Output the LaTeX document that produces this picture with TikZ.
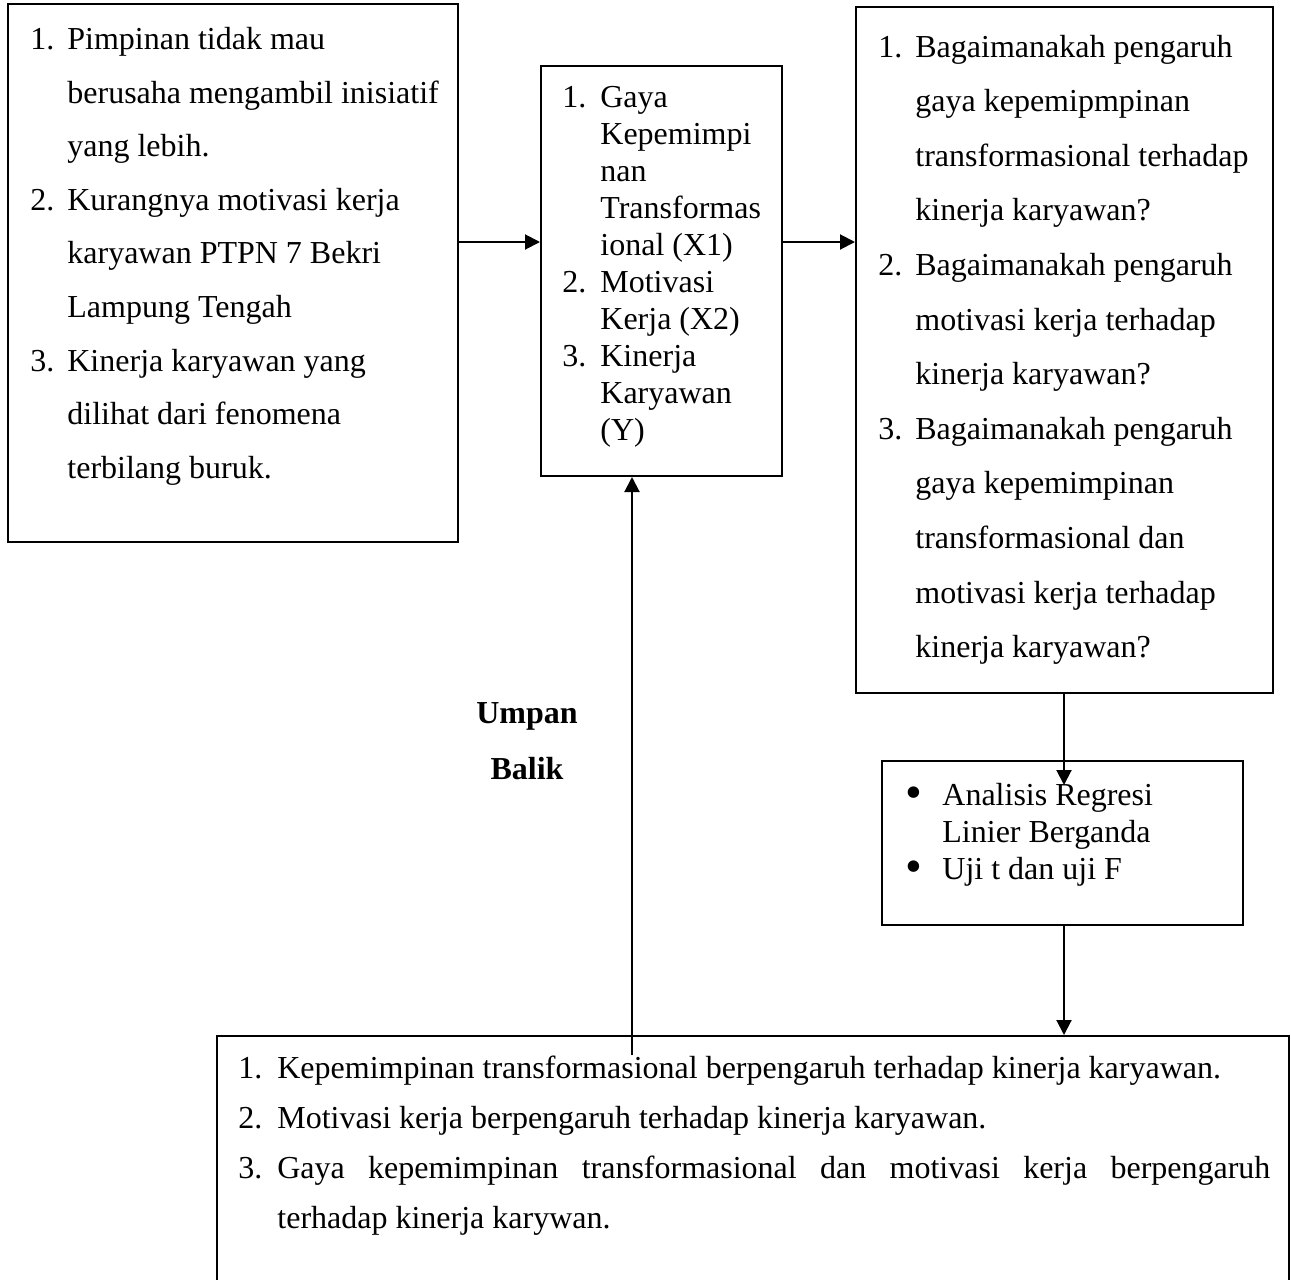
\documentclass[tikz,border=0pt]{standalone}
\usepackage{fontspec}
\setmainfont{Liberation Serif}
\usetikzlibrary{arrows.meta,fit}
% one numbered line with hanging text
\newcommand{\butir}[3]{\par\noindent\hangindent=#1\hangafter=1\makebox[#1][l]{#2}\strut#3\par}
\newcommand{\titik}{\raisebox{-1.5pt}{\scalebox{1.5}{\textbullet}}}
\begin{document}
\begin{tikzpicture}[x=0.5pt,y=-0.5pt,
  kotak/.style={draw,line width=1pt,inner sep=0pt},
  isi/.style={anchor=north west,inner sep=0pt,align=justify},
  panah/.style={line width=1pt,-{Triangle[length=7.5pt,width=7.5pt]}}]
\useasboundingbox (0,0) rectangle (1291,1280);

\node[kotak,fit={(8,4)(458,542)}] (masalah) {};
\node[kotak,fit={(541,66)(782,476)}] (variabel) {};
\node[kotak,fit={(856,7)(1273,693)}] (rumusan) {};
\node[kotak,fit={(882,761)(1243,925)}] (analisis) {};
\node[kotak,fit={(217,1036)(1289,1300)}] (hasil) {};

\node[isi,text width=210pt,font=\fontsize{16}{26.8}\selectfont] (masalahisi) at (30,-4.5) {%
\butir{18.5pt}{1.}{Pimpinan tidak mau\newline berusaha mengambil inisiatif\newline yang lebih.}
\butir{18.5pt}{2.}{Kurangnya motivasi kerja\newline karyawan PTPN 7 Bekri\newline Lampung Tengah}
\butir{18.5pt}{3.}{Kinerja karyawan yang\newline dilihat dari fenomena\newline terbilang buruk.}};

\node[isi,text width=107pt,font=\fontsize{16}{18.5}\selectfont] (variabelisi) at (562,70) {%
\butir{19pt}{1.}{Gaya\newline Kepemimpi\newline nan\newline Transformas\newline ional (X1)}
\butir{19pt}{2.}{Motivasi\newline Kerja (X2)}
\butir{19pt}{3.}{Kinerja\newline Karyawan\newline (Y)}};

\node[isi,text width=196pt,font=\fontsize{16}{27.3}\selectfont] (rumusanisi) at (878,2) {%
\butir{18.5pt}{1.}{Bagaimanakah pengaruh\newline gaya kepemipmpinan\newline transformasional terhadap\newline kinerja karyawan?}
\butir{18.5pt}{2.}{Bagaimanakah pengaruh\newline motivasi kerja terhadap\newline kinerja karyawan?}
\butir{18.5pt}{3.}{Bagaimanakah pengaruh\newline gaya kepemimpinan\newline transformasional dan\newline motivasi kerja terhadap\newline kinerja karyawan?}};

\node[isi,text width=165pt,font=\fontsize{16}{18.5}\selectfont] (analisisisi) at (905,768) {%
\butir{18.5pt}{\titik}{Analisis Regresi\newline Linier Berganda}
\butir{18.5pt}{\titik}{Uji t dan uji F}};

\node[isi,text width=516pt,font=\fontsize{16}{25}\selectfont] (hasilisi) at (238,1028) {%
\butir{19.5pt}{1.}{Kepemimpinan transformasional berpengaruh terhadap kinerja karyawan.}
\butir{19.5pt}{2.}{Motivasi kerja berpengaruh terhadap kinerja karyawan.}
\butir{19.5pt}{3.}{Gaya kepemimpinan transformasional dan motivasi kerja berpengaruh\linebreak terhadap kinerja karywan.}};

\node[anchor=north,align=center,inner sep=0pt,font=\fontsize{16}{28}\selectfont\bfseries] (umpan) at (527,684) {\strut Umpan\\Balik};

\coordinate (garis) at (0,242);
\coordinate (ujung) at (1064,785);
\coordinate (pangkal) at (632,1055);

\draw[panah] (masalah.east |- garis) -- (variabel.west |- garis);
\draw[panah] (variabel.east |- garis) -- (rumusan.west |- garis);
\draw[panah] (rumusan.south -| ujung) -- (ujung);
\draw[panah] (analisis.south -| ujung) -- (hasil.north -| ujung);
\draw[panah] (pangkal) -- (variabel.south -| pangkal);

\end{tikzpicture}
\end{document}
